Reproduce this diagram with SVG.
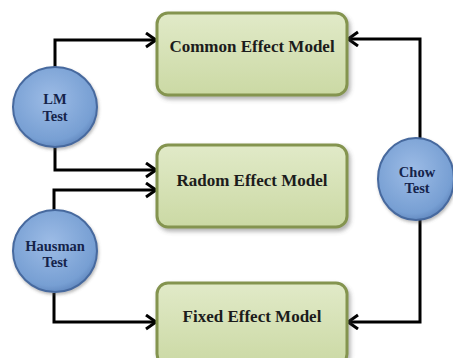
<svg xmlns="http://www.w3.org/2000/svg" width="453" height="358" viewBox="0 0 453 358">
<style>
.box{fill:url(#gBox);stroke:#84944f;stroke-width:3;filter:url(#sh)}
.circ{fill:url(#gCirc);stroke:#46699e;stroke-width:2;filter:url(#sh2)}
.bt{font-family:"Liberation Serif","Times New Roman",serif;font-weight:bold;font-size:17px;fill:#1c1c1c;text-anchor:middle}
.ct{font-family:"Liberation Serif","Times New Roman",serif;font-weight:bold;font-size:14.5px;fill:#15234a;text-anchor:middle}
.con{fill:none;stroke:#000;stroke-width:3;marker-end:url(#arr)}
</style>
<defs>
<linearGradient id="gBox" x1="0" y1="0" x2="0" y2="1">
<stop offset="0" stop-color="#e1eac8"/>
<stop offset="1" stop-color="#cbd9a4"/>
</linearGradient>
<radialGradient id="gCirc" cx="0.45" cy="0.4" r="0.65">
<stop offset="0" stop-color="#9dbce6"/>
<stop offset="0.8" stop-color="#779fd3"/>
<stop offset="1" stop-color="#5a80b8"/>
</radialGradient>
<filter id="sh" x="-10%" y="-10%" width="125%" height="130%">
<feDropShadow dx="2" dy="3" stdDeviation="2" flood-color="#555" flood-opacity="0.45"/>
</filter>
<filter id="sh2" x="-15%" y="-15%" width="135%" height="135%">
<feDropShadow dx="1" dy="2" stdDeviation="1.5" flood-color="#555" flood-opacity="0.4"/>
</filter>
<marker id="arr" markerUnits="userSpaceOnUse" markerWidth="16" markerHeight="18" refX="12" refY="8" orient="auto" viewBox="0 0 16 18">
<path d="M2,1 L12,8 L2,15" fill="none" stroke="#000" stroke-width="3"/>
</marker>
</defs>
<g id="connectors">
<path class="con" d="M55,68 V40 H156"/>
<path class="con" d="M55,147 V170 H156"/>
<path class="con" d="M54,210 V190 H156"/>
<path class="con" d="M54,293 V322 H156"/>
<path class="con" d="M420,138 V39 H348"/>
<path class="con" d="M420,220 V322 H348"/>
</g>
<g id="common">
<rect class="box" x="157" y="13" width="190" height="82" rx="11"/>
<text class="bt" x="252" y="52">Common Effect Model</text>
</g>
<g id="radom">
<rect class="box" x="157" y="145" width="190" height="82" rx="11"/>
<text class="bt" x="252" y="186">Radom Effect Model</text>
</g>
<g id="fixed">
<rect class="box" x="157" y="283" width="190" height="82" rx="11"/>
<text class="bt" x="252" y="322">Fixed Effect Model</text>
</g>
<g id="lm">
<ellipse class="circ" cx="55" cy="107" rx="42" ry="40"/>
<text class="ct" x="55" y="104">LM</text>
<text class="ct" x="55" y="121">Test</text>
</g>
<g id="hausman">
<ellipse class="circ" cx="55" cy="251" rx="42" ry="41"/>
<text class="ct" x="55" y="251">Hausman</text>
<text class="ct" x="55" y="267">Test</text>
</g>
<g id="chow">
<ellipse class="circ" cx="416" cy="179" rx="38" ry="41"/>
<text class="ct" x="417" y="177">Chow</text>
<text class="ct" x="417" y="193">Test</text>
</g>
</svg>
